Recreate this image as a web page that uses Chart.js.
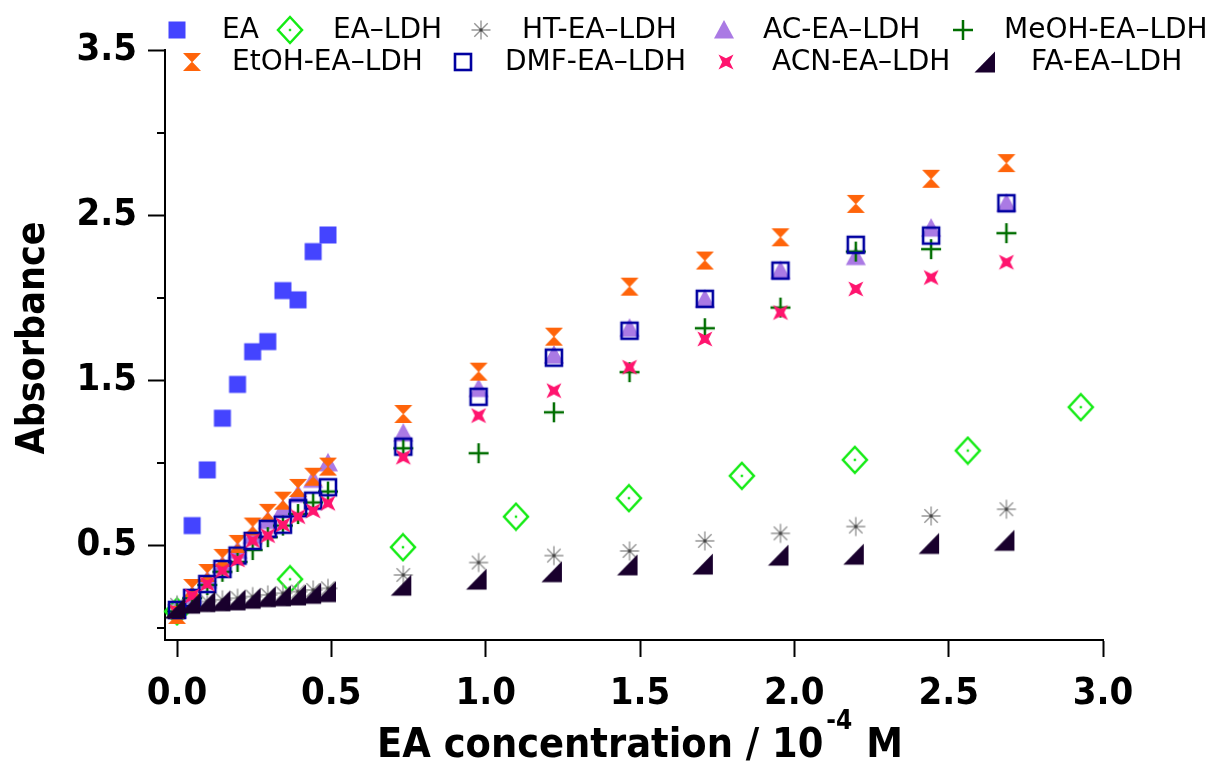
<!DOCTYPE html>
<html lang="en">
<head>
<meta charset="UTF-8">
<title>Absorbance vs EA concentration</title>
<script src="https://cdn.jsdelivr.net/npm/chart.js"></script>
<style>
  body { margin: 0; background: #fff; }
  #wrap { width: 1221px; height: 763px; }
</style>
</head>
<body>
<div id="wrap"><canvas id="chart" width="1221" height="763"></canvas></div>
<script>
// x values (10^-4 M)
const eaX = [0.049, 0.098, 0.147, 0.196, 0.245, 0.294, 0.343, 0.392, 0.441, 0.489];
const ldhX = [0, 0.366, 0.732, 1.098, 1.464, 1.83, 2.196, 2.562, 2.928];
const solvX = [0, 0.049, 0.098, 0.147, 0.196, 0.245, 0.294, 0.343, 0.392, 0.441, 0.489,
               0.733, 0.977, 1.221, 1.466, 1.71, 1.955, 2.199, 2.443, 2.687];

// absorbance values
const eaY   = [0.62, 0.957, 1.27, 1.475, 1.673, 1.734, 2.043, 1.987, 2.279, 2.38];
const ldhY  = [0.1, 0.295, 0.489, 0.674, 0.786, 0.921, 1.018, 1.074, 1.337];
const htY   = [0.14, 0.15, 0.16, 0.17, 0.18, 0.19, 0.2, 0.21, 0.22, 0.23, 0.24,
               0.321, 0.396, 0.438, 0.466, 0.527, 0.573, 0.614, 0.678, 0.719];
const acY   = [0.11, 0.2, 0.29, 0.38, 0.47, 0.56, 0.65, 0.72, 0.81, 0.9, 1.0,
               1.18, 1.45, 1.653, 1.815, 1.991, 2.164, 2.249, 2.421, 2.572];
const meohY = [0.1, 0.18, 0.26, 0.34, 0.4, 0.472, 0.55, 0.62, 0.69, 0.76, 0.826,
               1.088, 1.058, 1.306, 1.549, 1.815, 1.94, 2.279, 2.294, 2.391];
const etohY = [0.079, 0.242, 0.333, 0.424, 0.509, 0.614, 0.697, 0.771, 0.848, 0.916, 0.977,
               1.296, 1.552, 1.764, 2.067, 2.225, 2.366, 2.568, 2.72, 2.815];
const dmfY  = [0.109, 0.182, 0.266, 0.357, 0.438, 0.527, 0.6, 0.625, 0.725, 0.771, 0.852,
               1.098, 1.4, 1.637, 1.8, 1.993, 2.164, 2.32, 2.376, 2.572];
const acnY  = [0.097, 0.194, 0.266, 0.347, 0.412, 0.529, 0.559, 0.624, 0.674, 0.709, 0.755,
               1.034, 1.286, 1.437, 1.579, 1.75, 1.91, 2.053, 2.122, 2.215];
const faY   = [0.12, 0.15, 0.16, 0.165, 0.17, 0.18, 0.19, 0.195, 0.2, 0.21, 0.22,
               0.259, 0.296, 0.341, 0.382, 0.387, 0.441, 0.447, 0.512, 0.531];

const seriesNames = ['EA', 'EA\u2013LDH', 'HT-EA\u2013LDH', 'AC-EA\u2013LDH', 'MeOH-EA\u2013LDH',
                     'EtOH-EA\u2013LDH', 'DMF-EA\u2013LDH', 'ACN-EA\u2013LDH', 'FA-EA\u2013LDH'];

const xTicks = [0, 0.5, 1, 1.5, 2, 2.5, 3];
const yTicks = [0, 0.5, 1, 1.5, 2, 2.5, 3, 3.5];
const yLabelled = [0.5, 1.5, 2.5, 3.5];
const yMinor = [0, 1, 2, 3];

const BOLD = "'DejaVu Sans Condensed', 'DejaVu Sans', sans-serif";
const PLAIN = "'DejaVu Sans', sans-serif";

// Igor-like marker images
function makeMarker(kind, color) {
  const c = document.createElement('canvas');
  c.width = 30; c.height = 30;
  const g = c.getContext('2d');
  g.translate(15, 15);
  g.fillStyle = color; g.strokeStyle = color;
  g.beginPath();
  switch (kind) {
    case 'square':
      g.fillRect(-8.5, -8.5, 17, 17);
      break;
    case 'diamond':
      g.lineWidth = 2.5;
      g.moveTo(0, -13); g.lineTo(12, 0); g.lineTo(0, 13); g.lineTo(-12, 0);
      g.closePath(); g.stroke();
      g.fillRect(-1.2, -1.2, 2.4, 2.4);
      break;
    case 'asterisk':
      g.lineWidth = 1.4;
      for (let k = 0; k < 4; k++) {
        const a = k * Math.PI / 4;
        g.moveTo(-9.5 * Math.cos(a), -9.5 * Math.sin(a));
        g.lineTo(9.5 * Math.cos(a), 9.5 * Math.sin(a));
      }
      g.stroke();
      g.fillStyle = '#444';
      g.fillRect(-1.5, -1.5, 3, 3);
      break;
    case 'triangle':
      g.moveTo(0, -10); g.lineTo(10, 8.5); g.lineTo(-10, 8.5);
      g.closePath(); g.fill();
      break;
    case 'plus':
      g.lineWidth = 2.5;
      g.moveTo(-10, 0); g.lineTo(10, 0);
      g.moveTo(0, -10); g.lineTo(0, 10);
      g.stroke();
      break;
    case 'hourglass':
      g.moveTo(-9, -9); g.lineTo(9, -9); g.lineTo(0, 0.5); g.closePath();
      g.moveTo(0, -0.5); g.lineTo(9, 9); g.lineTo(-9, 9); g.closePath();
      g.fill();
      break;
    case 'open':
      g.lineWidth = 2.6;
      g.strokeRect(-8, -8, 16, 16);
      break;
    case 'star':
      g.moveTo(-7.5, -7.5); g.lineTo(0, -3.8); g.lineTo(7.5, -7.5); g.lineTo(3.8, 0);
      g.lineTo(7.5, 7.5); g.lineTo(0, 3.8); g.lineTo(-7.5, 7.5); g.lineTo(-3.8, 0);
      g.closePath(); g.fill();
      break;
    case 'corner':
      g.moveTo(-12.5, 10.5); g.lineTo(8, 10.5); g.lineTo(8, -10.5);
      g.closePath(); g.fill();
      break;
  }
  return c;
}

const markers = [
  makeMarker('square', 'rgb(68,68,255)'),
  makeMarker('diamond', 'rgb(20,235,20)'),
  makeMarker('asterisk', 'rgb(150,150,150)'),
  makeMarker('triangle', 'rgb(170,122,228)'),
  makeMarker('plus', 'rgb(0,110,0)'),
  makeMarker('hourglass', 'rgb(255,100,10)'),
  makeMarker('open', 'rgb(0,0,160)'),
  makeMarker('star', 'rgb(255,20,110)'),
  makeMarker('corner', 'rgb(25,0,45)')
];

const xs = [eaX, ldhX, solvX, solvX, solvX, solvX, solvX, solvX, solvX];
const ys = [eaY, ldhY, htY, acY, meohY, etohY, dmfY, acnY, faY];

const datasets = seriesNames.map((name, i) => ({
  label: name,
  data: xs[i].map((x, j) => ({ x: x, y: ys[i][j] })),
  pointStyle: markers[i],
  pointRadius: 10,
  showLine: false,
  clip: false,
  order: seriesNames.length - i
}));

// legend layout: two rows like the original
const legendRows = [
  { y: 30, items: [0, 1, 2, 3, 4], markX: [177, 290, 481, 724, 963], textX: [222, 333, 522, 763, 1004] },
  { y: 62, items: [5, 6, 7, 8], markX: [192, 463, 726, 987], textX: [232, 505, 772, 1031] }
];

const extras = {
  id: 'extras',
  afterDraw(chart) {
    const ctx = chart.ctx;
    ctx.save();
    // minor ticks on y
    const ys = chart.scales.y;
    ctx.strokeStyle = '#000';
    ctx.lineWidth = 2;
    yMinor.forEach(v => {
      const py = Math.round(ys.getPixelForValue(v));
      ctx.beginPath();
      ctx.moveTo(ys.right - 8, py);
      ctx.lineTo(ys.right, py);
      ctx.stroke();
    });

    // legend
    ctx.fillStyle = '#000';
    ctx.font = '28px ' + PLAIN;
    ctx.textBaseline = 'middle';
    ctx.textAlign = 'left';
    legendRows.forEach(row => {
      row.items.forEach((idx, k) => {
        const m = markers[idx];
        ctx.drawImage(m, row.markX[k] - m.width / 2, row.y - m.height / 2);
        ctx.fillText(seriesNames[idx], row.textX[k], row.y + 1);
      });
    });

    // x title with superscript
    const s1 = 'EA concentration / 10', s2 = '-4', s3 = ' M';
    ctx.textBaseline = 'alphabetic';
    ctx.font = 'bold 41px ' + BOLD;
    const w1 = ctx.measureText(s1).width, w3 = ctx.measureText(s3).width;
    ctx.font = 'bold 26px ' + BOLD;
    const w2 = ctx.measureText(s2).width;
    let x0 = 640 - (w1 + w2 + w3 + 4) / 2;
    ctx.font = 'bold 41px ' + BOLD;
    ctx.fillText(s1, x0, 757);
    ctx.font = 'bold 26px ' + BOLD;
    ctx.fillText(s2, x0 + w1 + 3, 729);
    ctx.font = 'bold 41px ' + BOLD;
    ctx.fillText(s3, x0 + w1 + w2 + 4, 757);

    // y title
    ctx.font = 'bold 39px ' + BOLD;
    ctx.translate(44, 338);
    ctx.rotate(-Math.PI / 2);
    ctx.textAlign = 'center';
    ctx.fillText('Absorbance', 0, 0);
    ctx.restore();
  }
};

const tickFont = { family: BOLD, size: 38, weight: 'bold' };

new Chart(document.getElementById('chart'), {
  type: 'scatter',
  data: { datasets },
  options: {
    responsive: false,
    animation: false,
    layout: { padding: { left: 0, top: 50, right: 118, bottom: 0 } },
    plugins: { legend: { display: false }, tooltip: { enabled: false } },
    scales: {
      x: {
        type: 'linear', min: -0.039, max: 3.0,
        afterBuildTicks: s => { s.ticks = xTicks.map(v => ({ value: v })); },
        afterFit: s => { s.height = 123; },
        grid: { drawOnChartArea: false, drawTicks: true, tickLength: 17, tickWidth: 2, tickColor: '#000' },
        border: { display: true, color: '#000', width: 2 },
        ticks: { color: '#000', font: tickFont, padding: 14, maxRotation: 0,
                 callback: v => Number(v).toFixed(1) }
      },
      y: {
        type: 'linear', min: -0.073, max: 3.5,
        afterBuildTicks: s => { s.ticks = yTicks.map(v => ({ value: v })); },
        afterFit: s => { s.width = 165; },
        grid: { drawOnChartArea: false, drawTicks: true, tickLength: 17, tickWidth: 2,
                tickColor: c => yLabelled.includes(c.tick.value) ? '#000' : 'rgba(0,0,0,0)' },
        border: { display: true, color: '#000', width: 2 },
        ticks: { color: '#000', font: tickFont, padding: 11,
                 callback: v => yLabelled.includes(v) ? Number(v).toFixed(1) : '' }
      }
    }
  },
  plugins: [extras]
});
</script>
</body>
</html>
